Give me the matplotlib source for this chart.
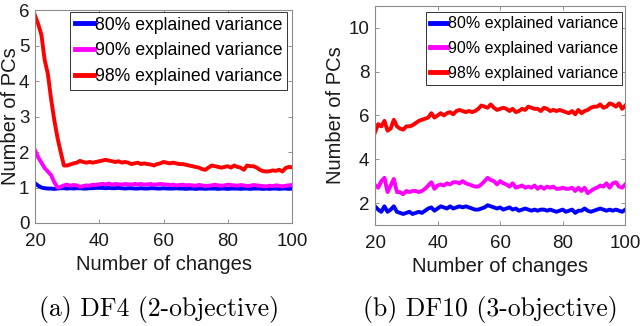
#!/usr/bin/env python3
"""Number of PCs vs number of changes for DF4 and DF10."""
import matplotlib
matplotlib.use("Agg")
import matplotlib.pyplot as plt
import numpy as np

# x values: number of changes
changes = np.arange(20, 101)

# DF4 (2-objective)
df4_80 = [1.12, 1.05, 1.00, 0.98, 0.97, 0.97, 0.96, 0.97, 0.98, 0.98,
          0.97, 0.98, 0.97, 0.98, 0.98, 0.97, 0.97, 0.98, 0.98, 0.99,
          0.99, 0.99, 0.98, 0.99, 0.98, 0.98, 0.99, 0.98, 0.97, 0.98,
          0.98, 0.97, 0.97, 0.98, 0.97, 0.97, 0.98, 0.98, 0.97, 0.97,
          0.98, 0.97, 0.97, 0.97, 0.98, 0.97, 0.97, 0.96, 0.97, 0.97,
          0.96, 0.97, 0.97, 0.96, 0.97, 0.97, 0.97, 0.96, 0.97, 0.97,
          0.96, 0.97, 0.97, 0.97, 0.96, 0.97, 0.97, 0.96, 0.97, 0.97,
          0.97, 0.96, 0.97, 0.96, 0.97, 0.97, 0.96, 0.97, 0.97, 0.96,
          0.97]
df4_90 = [2.05, 1.85, 1.70, 1.55, 1.45, 1.35, 1.15, 1.00, 1.02, 1.06,
          1.08, 1.05, 1.07, 1.06, 1.02, 1.04, 1.06, 1.05, 1.08, 1.07,
          1.09, 1.10, 1.09, 1.11, 1.08, 1.10, 1.09, 1.08, 1.10, 1.09,
          1.08, 1.10, 1.09, 1.10, 1.08, 1.09, 1.10, 1.08, 1.09, 1.10,
          1.09, 1.08, 1.07, 1.08, 1.06, 1.07, 1.08, 1.06, 1.07, 1.06,
          1.05, 1.07, 1.06, 1.04, 1.05, 1.06, 1.08, 1.06, 1.05, 1.06,
          1.08, 1.07, 1.06, 1.05, 1.07, 1.06, 1.04, 1.05, 1.07, 1.06,
          1.05, 1.04, 1.03, 1.05, 1.04, 1.06, 1.05, 1.03, 1.05, 1.06,
          1.07]
df4_98 = [5.85, 5.60, 5.30, 4.60, 4.20, 3.50, 2.90, 2.40, 2.00, 1.62,
          1.62, 1.65, 1.68, 1.70, 1.75, 1.72, 1.70, 1.72, 1.70, 1.72,
          1.74, 1.76, 1.78, 1.76, 1.74, 1.72, 1.74, 1.70, 1.72, 1.70,
          1.66, 1.68, 1.70, 1.66, 1.68, 1.66, 1.65, 1.62, 1.66, 1.68,
          1.72, 1.70, 1.68, 1.70, 1.68, 1.66, 1.66, 1.64, 1.62, 1.60,
          1.58, 1.56, 1.52, 1.50, 1.56, 1.62, 1.60, 1.58, 1.56, 1.58,
          1.60, 1.56, 1.62, 1.58, 1.56, 1.50, 1.62, 1.60, 1.60, 1.56,
          1.50, 1.46, 1.45, 1.46, 1.48, 1.47, 1.50, 1.45, 1.55, 1.58,
          1.57]

# DF10 (3-objective)
df10_80 = [1.85, 1.70, 1.60, 1.85, 1.60, 1.70, 1.85, 1.60, 1.55, 1.50,
           1.55, 1.60, 1.50, 1.55, 1.60, 1.55, 1.65, 1.75, 1.80, 1.65,
           1.75, 1.85, 1.80, 1.75, 1.85, 1.75, 1.80, 1.85, 1.80, 1.85,
           1.80, 1.75, 1.70, 1.70, 1.75, 1.80, 1.90, 1.85, 1.80, 1.75,
           1.80, 1.70, 1.75, 1.80, 1.70, 1.75, 1.65, 1.70, 1.75, 1.70,
           1.65, 1.70, 1.65, 1.70, 1.70, 1.65, 1.70, 1.65, 1.60, 1.65,
           1.70, 1.60, 1.65, 1.70, 1.55, 1.65, 1.65, 1.75, 1.65, 1.60,
           1.65, 1.70, 1.75, 1.70, 1.65, 1.70, 1.65, 1.70, 1.65, 1.60,
           1.70]
df10_90 = [2.82, 2.70, 3.00, 3.15, 2.50, 2.80, 3.10, 2.50, 2.50, 2.40,
           2.55, 2.50, 2.55, 2.55, 2.50, 2.55, 2.65, 2.80, 2.95, 2.65,
           2.80, 2.85, 2.80, 2.90, 2.85, 2.95, 2.95, 2.90, 3.00, 2.90,
           2.85, 2.80, 2.75, 2.75, 2.85, 3.00, 3.15, 3.05, 3.00, 2.85,
           3.00, 2.90, 2.85, 2.75, 2.90, 2.70, 2.75, 2.80, 2.70, 2.75,
           2.70, 2.80, 2.65, 2.75, 2.65, 2.75, 2.70, 2.75, 2.65, 2.65,
           2.70, 2.65, 2.65, 2.70, 2.55, 2.70, 2.55, 2.70, 2.45, 2.55,
           2.65, 2.70, 2.80, 2.75, 2.90, 2.70, 2.90, 2.95, 2.75, 2.70,
           2.85]
df10_98 = [5.23, 5.60, 5.50, 5.75, 5.30, 5.40, 5.80, 5.50, 5.40, 5.35,
           5.50, 5.50, 5.55, 5.65, 5.75, 5.80, 5.85, 5.90, 6.10, 5.90,
           6.00, 6.10, 6.00, 6.10, 6.15, 6.05, 6.20, 6.25, 6.20, 6.15,
           6.20, 6.15, 6.20, 6.30, 6.45, 6.40, 6.35, 6.50, 6.35, 6.25,
           6.30, 6.35, 6.30, 6.20, 6.30, 6.15, 6.20, 6.30, 6.25, 6.40,
           6.35, 6.30, 6.30, 6.20, 6.35, 6.30, 6.20, 6.25, 6.20, 6.25,
           6.20, 6.15, 6.10, 6.20, 6.05, 6.25, 6.10, 6.20, 6.25, 6.35,
           6.40, 6.40, 6.50, 6.35, 6.40, 6.55, 6.50, 6.40, 6.55, 6.30,
           6.45]

labels = ["80% explained variance", "90% explained variance",
          "98% explained variance"]
colors = ["#0000ff", "#ff00ff", "#ff0000"]
captions = ["(a) DF4 (2-objective)", "(b) DF10 (3-objective)"]

plt.rcParams["font.family"] = ["Liberation Sans", "DejaVu Sans"]

fig = plt.figure(figsize=(6.4, 3.26), dpi=100)
ax1 = fig.add_axes([0.0547, 0.316, 0.4016, 0.653])
ax2 = fig.add_axes([0.586, 0.310, 0.391, 0.672])


def style(ax, series, ylim, yticks, legend_size, spacing, anchor, ylab_x):
    for y, c, lab in zip(series, colors, labels):
        ax.plot(changes, y, color=c, lw=2.8, label=lab)
    ax.set_xlim(20, 100)
    ax.set_ylim(*ylim)
    ax.set_xticks([20, 40, 60, 80, 100])
    ax.set_yticks(yticks)
    ax.tick_params(direction="in", top=True, right=True, labelsize=13.5,
                   length=3, width=0.5, color="0.4", labelcolor="0.1")
    ax.tick_params(axis="x", pad=7)
    ax.tick_params(axis="y", pad=4)
    for sp in ax.spines.values():
        sp.set_color("0.55")
        sp.set_linewidth(0.8)
    ax.set_xlabel("Number of changes", fontsize=14.5, labelpad=4,
                  color="0.1")
    ax.set_ylabel("Number of PCs", fontsize=14.5, color="0.1")
    ax.yaxis.set_label_coords(ylab_x, 0.5)
    leg = ax.legend(loc="upper right", bbox_to_anchor=anchor,
                    fontsize=legend_size, handlelength=1.1,
                    handletextpad=0.05, borderpad=0.25,
                    labelspacing=spacing, borderaxespad=0, fancybox=False,
                    framealpha=1)
    leg.get_frame().set_edgecolor("0.2")
    leg.get_frame().set_linewidth(0.7)
    for line in leg.get_lines():
        line.set_linewidth(3.5)


style(ax1, [df4_80, df4_90, df4_98], (0, 6), range(0, 7), 12.7, 0.5,
      (0.98, 0.99), -0.058)
style(ax2, [df10_80, df10_90, df10_98], (1, 11), [2, 4, 6, 8, 10], 11.5,
      0.6, (0.988, 0.97), -0.12)

fig.text(0.248, 0.052, captions[0], ha="center", va="center",
         fontsize=18.5, family="cmr10")
fig.text(0.766, 0.052, captions[1], ha="center", va="center",
         fontsize=18.5, family="cmr10")

fig.savefig("out.png", dpi=100)
